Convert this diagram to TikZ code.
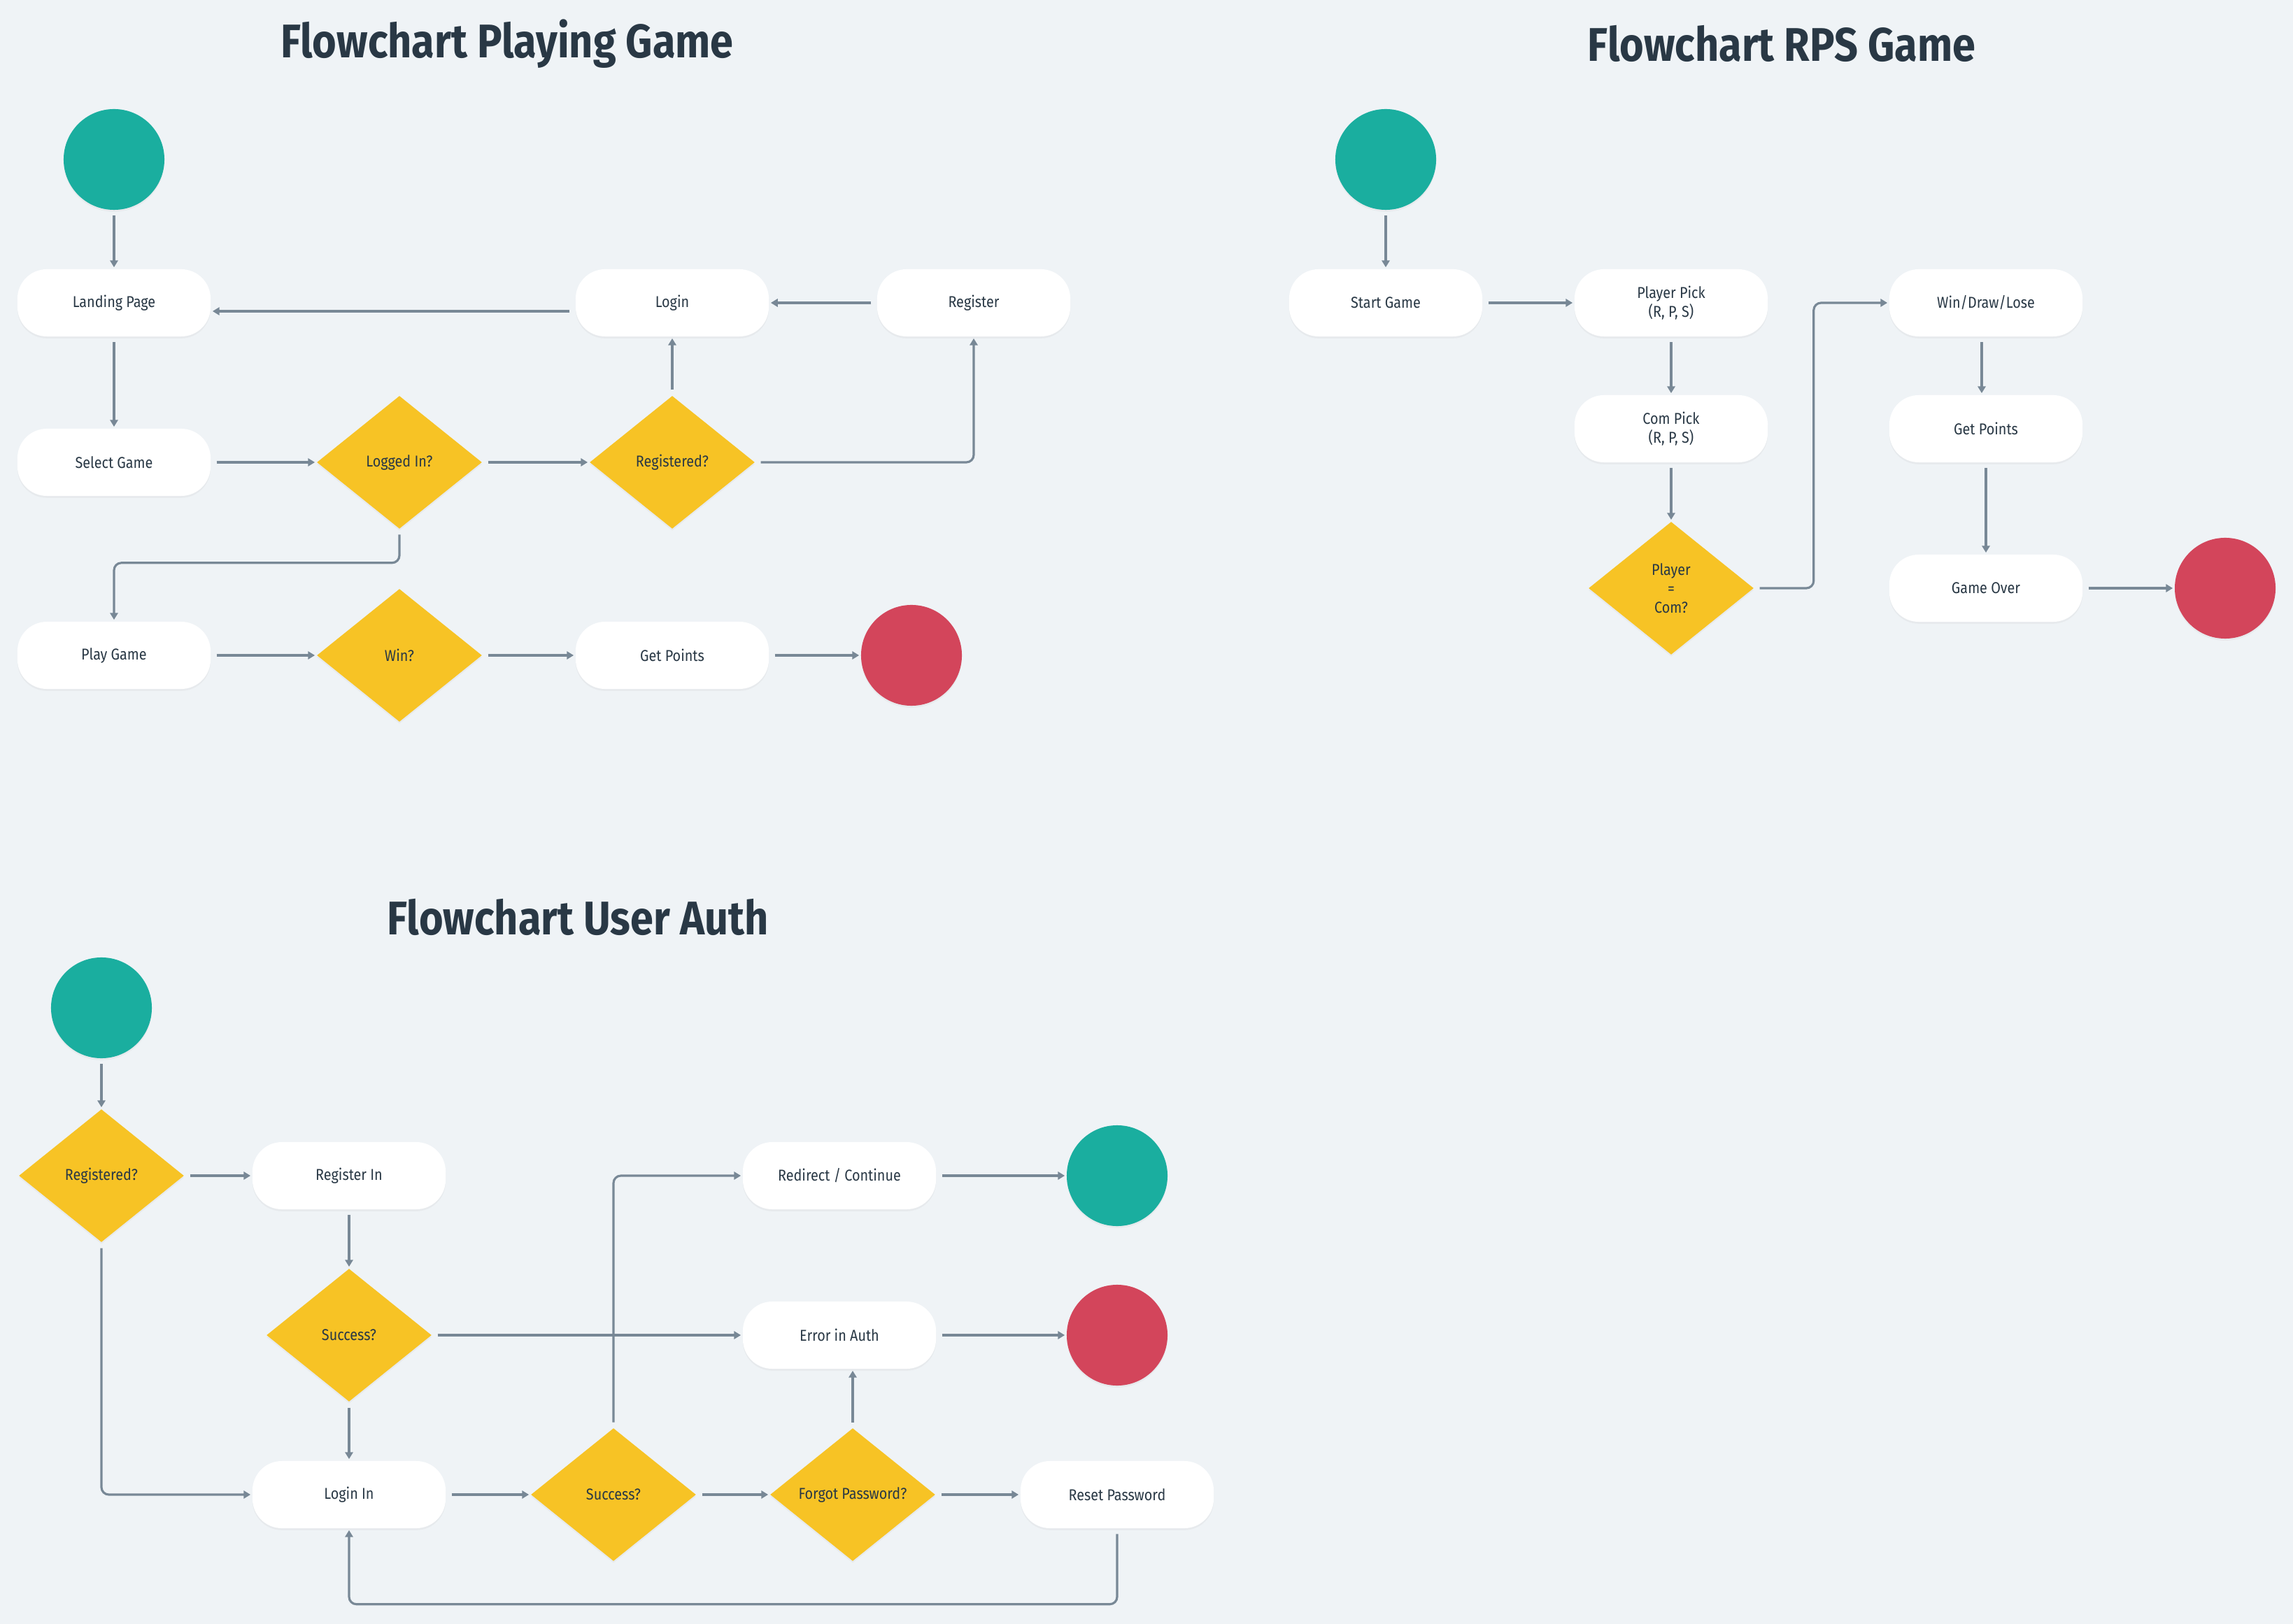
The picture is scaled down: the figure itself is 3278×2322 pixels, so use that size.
\documentclass[tikz,border=0pt]{standalone}
\usepackage{fontspec}
\setmainfont{Fira Sans}[FakeStretch=0.88]
\usetikzlibrary{shapes.geometric, arrows.meta, positioning, calc, shadows}
\definecolor{bgLight}{HTML}{EFF3F6}
\definecolor{tealStart}{HTML}{1AAE9F}
\definecolor{redEnd}{HTML}{D3455B}
\definecolor{decisionYellow}{HTML}{F7C325}
\definecolor{lineGray}{HTML}{788896}
\definecolor{textDark}{HTML}{293845}
\tikzset{
    softshadow/.style={drop shadow={opacity=0.07, shadow xshift=0pt, shadow yshift=-0.8pt}},
    startnode/.style={circle, fill=tealStart, minimum size=1.44cm, inner sep=0pt, softshadow},
    endnode/.style={circle, fill=redEnd, minimum size=1.44cm, inner sep=0pt, softshadow},
    procbox/.style={rectangle, rounded corners=0.42cm, fill=white, minimum width=2.76cm, minimum height=0.96cm,
        inner sep=0pt, align=center, text=textDark, font=\fontsize{6.4}{7.7}\selectfont, softshadow},
    decision/.style={diamond, fill=decisionYellow, minimum width=2.36cm, minimum height=1.9cm, inner sep=0pt,
        align=center, text=textDark, font=\fontsize{6.4}{7.7}\selectfont, softshadow},
    flowline/.style={draw=lineGray, line width=0.9pt, rounded corners=3pt, shorten <=2.2pt, shorten >=0.6pt,
        -{Triangle[length=2.8pt, width=3.2pt]}},
    charttitle/.style={text=textDark, font=\fontsize{19.2}{21}\selectfont\bfseries}
}

\begin{document}
\begin{tikzpicture}[x=0.01cm, y=-0.01cm]
    % Background
    \fill[bgLight] (0,0) rectangle (3278,2322);
    \useasboundingbox (0,0) rectangle (3278,2322);

    % Titles
    \node[charttitle] (titlePlay) at (725,63) {Flowchart Playing Game};
    \node[charttitle] (titleRps) at (2547,62) {Flowchart RPS Game};
    \node[charttitle] (titleAuth) at (826,1311) {Flowchart User Auth};

    % Playing Game
    \node[startnode] (pgStart) at (163,228) {};
    \node[procbox] (landing) at (163,433) {Landing Page};
    \node[procbox] (login) at (961,433) {Login};
    \node[procbox] (register) at (1392,433) {Register};
    \node[procbox] (selectGame) at (163,661) {Select Game};
    \node[decision] (loggedIn) at (571,661) {Logged In?};
    \node[decision] (registered) at (961,661) {Registered?};
    \node[procbox] (playGame) at (163,937) {Play Game};
    \node[decision] (win) at (571,937) {Win?};
    \node[procbox] (getPoints) at (961,937) {Get Points};
    \node[endnode] (pgEnd) at (1303,937) {};

    \draw[flowline] (pgStart) -- (landing);
    \draw[flowline] ([yshift=-0.12cm]login.west) -- ([yshift=-0.12cm]landing.east);
    \draw[flowline] (register) -- (login);
    \draw[flowline] (landing) -- (selectGame);
    \draw[flowline] (selectGame) -- (loggedIn);
    \draw[flowline] (loggedIn) -- (registered);
    \draw[flowline] (registered.east) -| (register.south);
    \draw[flowline] (registered.north) -- (login.south);
    \draw[flowline] (loggedIn.south) -- ++(0,48) -| (playGame.north);
    \draw[flowline] (playGame) -- (win);
    \draw[flowline] (win) -- (getPoints);
    \draw[flowline] (getPoints) -- (pgEnd);

    % RPS Game
    \node[startnode] (rpsStart) at (1981,228) {};
    \node[procbox] (startGame) at (1981,433) {Start Game};
    \node[procbox] (playerPick) at (2389,433) {Player Pick\\(R, P, S)};
    \node[procbox] (comPick) at (2389,613) {Com Pick\\(R, P, S)};
    \node[decision] (sameCheck) at (2389,841) {Player\\=\\Com?};
    \node[procbox] (outcome) at (2839,433) {Win/Draw/Lose};
    \node[procbox] (rpsPoints) at (2839,613) {Get Points};
    \node[procbox] (gameOver) at (2839,841) {Game Over};
    \node[endnode] (rpsEnd) at (3181,841) {};

    \draw[flowline] (rpsStart) -- (startGame);
    \draw[flowline] (startGame) -- (playerPick);
    \draw[flowline] (playerPick) -- (comPick);
    \draw[flowline] (comPick) -- (sameCheck);
    \draw[flowline] (sameCheck.east) -- ++(85,0) |- (outcome.west);
    \draw[flowline] ([xshift=-0.06cm]outcome.south) -- ([xshift=-0.06cm]rpsPoints.north);
    \draw[flowline] (rpsPoints) -- (gameOver);
    \draw[flowline] (gameOver) -- (rpsEnd);

    % User Auth
    \node[startnode] (authStart) at (145,1441) {};
    \node[decision] (authRegistered) at (145,1681) {Registered?};
    \node[procbox] (registerIn) at (499,1681) {Register In};
    \node[decision] (successReg) at (499,1909) {Success?};
    \node[procbox] (loginIn) at (499,2137) {Login In};
    \node[decision] (successLogin) at (877,2137) {Success?};
    \node[decision] (forgot) at (1219,2137) {Forgot Password?};
    \node[procbox] (resetPw) at (1597,2137) {Reset Password};
    \node[procbox] (redirect) at (1200,1681) {Redirect / Continue};
    \node[procbox] (authError) at (1200,1909) {Error in Auth};
    \node[startnode] (authOk) at (1597,1681) {};
    \node[endnode] (authFail) at (1597,1909) {};

    \draw[flowline] (authStart) -- (authRegistered);
    \draw[flowline] (authRegistered) -- (registerIn);
    \draw[flowline] (registerIn) -- (successReg);
    \draw[flowline] (successReg) -- (loginIn);
    \draw[flowline] (authRegistered.south) |- (loginIn.west);
    \draw[flowline] (successReg) -- (authError);
    \draw[flowline] (loginIn) -- (successLogin);
    \draw[flowline] (successLogin) -- (forgot);
    \draw[flowline] (forgot) -- (resetPw);
    \draw[flowline] (successLogin.north) |- (redirect.west);
    \draw[flowline] (forgot.north) -- (forgot.north |- authError.south);
    \draw[flowline] (redirect) -- (authOk);
    \draw[flowline] (authError) -- (authFail);
    \draw[flowline] (resetPw.south) -- ++(0,108) -| (loginIn.south);
\end{tikzpicture}
\end{document}
